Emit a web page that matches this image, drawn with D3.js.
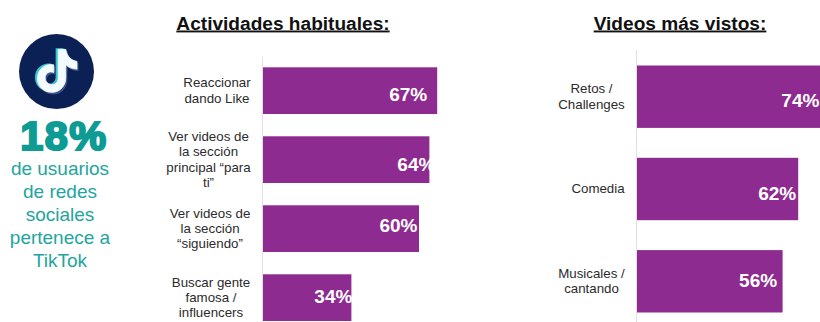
<!DOCTYPE html>
<html lang="es">
<head>
<meta charset="utf-8">
<script src="https://cdn.jsdelivr.net/npm/d3@7"></script>
<style>
html,body{margin:0;padding:0;background:#fff;overflow:hidden}
svg{display:block}
text{font-family:"Liberation Sans",Arial,sans-serif}
</style>
</head>
<body>
<svg id="chart" width="820" height="322"></svg>
<script>
const activityLabels = [
  ["Reaccionar","dando Like"],
  ["Ver videos de","la sección","principal “para","ti”"],
  ["Ver videos de","la sección","“siguiendo”"],
  ["Buscar gente","famosa /","influencers"]
];
const activityValues = [67, 64, 60, 34];
const videoLabels = [
  ["Retos /","Challenges"],
  ["Comedia"],
  ["Musicales /","cantando"]
];
const videoValues = [74, 62, 56];
const statLines = ["de usuarios","de redes","sociales","pertenece a","TikTok"];
const statValue = "18%";

// Hand placement of category and value labels, bar by bar.
const activityLabelX = [217, 208.5, 210, 211];
const activityValueDx = [-10, 6, -1.5, 1];
const activityValueDy = [10.7, 11, 3.5, 5.5];
const videoLabelX = [591.5, 598, 591.5];
const videoValueDx = [-10, -2, -5.5];
const videoValueDy = [10, 11, 6];

const PURPLE = "#8e2b90", TEAL = "#22a59e", TEAL_DARK = "#0d9b94", INK = "#2b2b2b";
const svg = d3.select("#chart");

// One horizontal bar panel with its title, baseline and wrapped category labels.
function panel(o) {
  const ids = o.values.map((_, i) => i);
  const y = d3.scaleBand().domain(ids).range(o.yRange).paddingInner(o.gap).paddingOuter(0);
  const x = d3.scaleLinear().domain([0, 100]).range([o.x0, o.x0 + 260]);
  const g = svg.append("g");

  g.append("text").attr("x", o.titleX).attr("y", 29.5).attr("text-anchor", "middle")
    .attr("font-size", 19.1).attr("font-weight", 700).attr("fill", "#111")
    .attr("text-decoration", "underline").text(o.title);

  g.append("line").attr("x1", o.x0 - .5).attr("x2", o.x0 - .5)
    .attr("y1", o.axisTop).attr("y2", 322).attr("stroke", "#e2e0e2");

  g.selectAll("rect").data(o.values).join("rect")
    .attr("x", o.x0).attr("y", (_, i) => y(i))
    .attr("width", d => x(d) - o.x0).attr("height", y.bandwidth())
    .attr("fill", PURPLE);

  g.selectAll("text.val").data(o.values).join("text").attr("class", "val")
    .attr("x", (d, i) => x(d) + o.valueDx[i])
    .attr("y", (_, i) => y(i) + y.bandwidth() / 2 + o.valueDy[i])
    .attr("text-anchor", "end").attr("font-size", 19).attr("font-weight", 700)
    .attr("fill", "#fff").text(d => d + "%");

  g.selectAll("text.cat").data(o.labels).join("text").attr("class", "cat")
    .attr("text-anchor", "middle").attr("font-size", 13.3).attr("fill", INK)
    .each(function (lines, i) {
      const mid = y(i) + y.bandwidth() / 2;
      const lh = 15.4;
      const top = mid - (lines.length - 1) * lh / 2 + 4.3;
      d3.select(this).selectAll("tspan").data(lines).join("tspan")
        .attr("x", o.labelX[i]).attr("y", (_, k) => top + k * lh).text(d => d);
    });
}

panel({
  title: "Actividades habituales:", titleX: 283, x0: 263, axisTop: 57,
  values: activityValues, labels: activityLabels,
  yRange: [67.3, 321], gap: .323, labelX: activityLabelX,
  valueDx: activityValueDx, valueDy: activityValueDy
});
panel({
  title: "Videos más vistos:", titleX: 680, x0: 637, axisTop: 50,
  values: videoValues, labels: videoLabels,
  yRange: [65.5, 312.5], gap: .324, labelX: videoLabelX,
  valueDx: videoValueDx, valueDy: videoValueDy
});

// Round TikTok badge with the layered note glyph.
const note = "M-1,-24 L8,-24 C9,-16 14,-11 21,-10 L21,-1 C15,-1 11,-3 8,-6 L8,9 C8,20 -1,27 -10,26 C-20,25 -26,17 -25,8 C-24,-2 -15,-8 -6,-6 L-6,3 C-11,1 -16,4 -16,9 C-16,14 -12,17 -8,17 C-4,17 -1,14 -1,9 Z";
const logo = svg.append("g").attr("transform", "translate(56.5,71.5)");
logo.append("circle").attr("r", 37.5).attr("fill", "#0b2055");
logo.append("path").attr("d", note).attr("fill", "#39c6d3").attr("transform", "translate(0,-2.5) scale(.86)");
logo.append("path").attr("d", note).attr("fill", "#3a4f86").attr("transform", "translate(4,0.5) scale(.86)");
logo.append("path").attr("d", note).attr("fill", "#f4fbfc")
  .attr("stroke", "#f4fbfc").attr("stroke-width", .8)
  .attr("transform", "translate(2.5,-1.5) scale(.86)");

svg.append("text").attr("x", 64).attr("y", 150).attr("text-anchor", "middle")
  .attr("font-size", 41.5).attr("font-weight", 700).attr("letter-spacing", 1.4)
  .attr("fill", TEAL_DARK).attr("stroke", TEAL_DARK).attr("stroke-width", 2.2).text(statValue);

svg.selectAll("text.stat").data(statLines).join("text").attr("class", "stat")
  .attr("x", 60).attr("y", (_, i) => 174.5 + i * 23.1)
  .attr("text-anchor", "middle").attr("font-size", 19).attr("fill", TEAL)
  .text(d => d);
</script>
</body>
</html>
